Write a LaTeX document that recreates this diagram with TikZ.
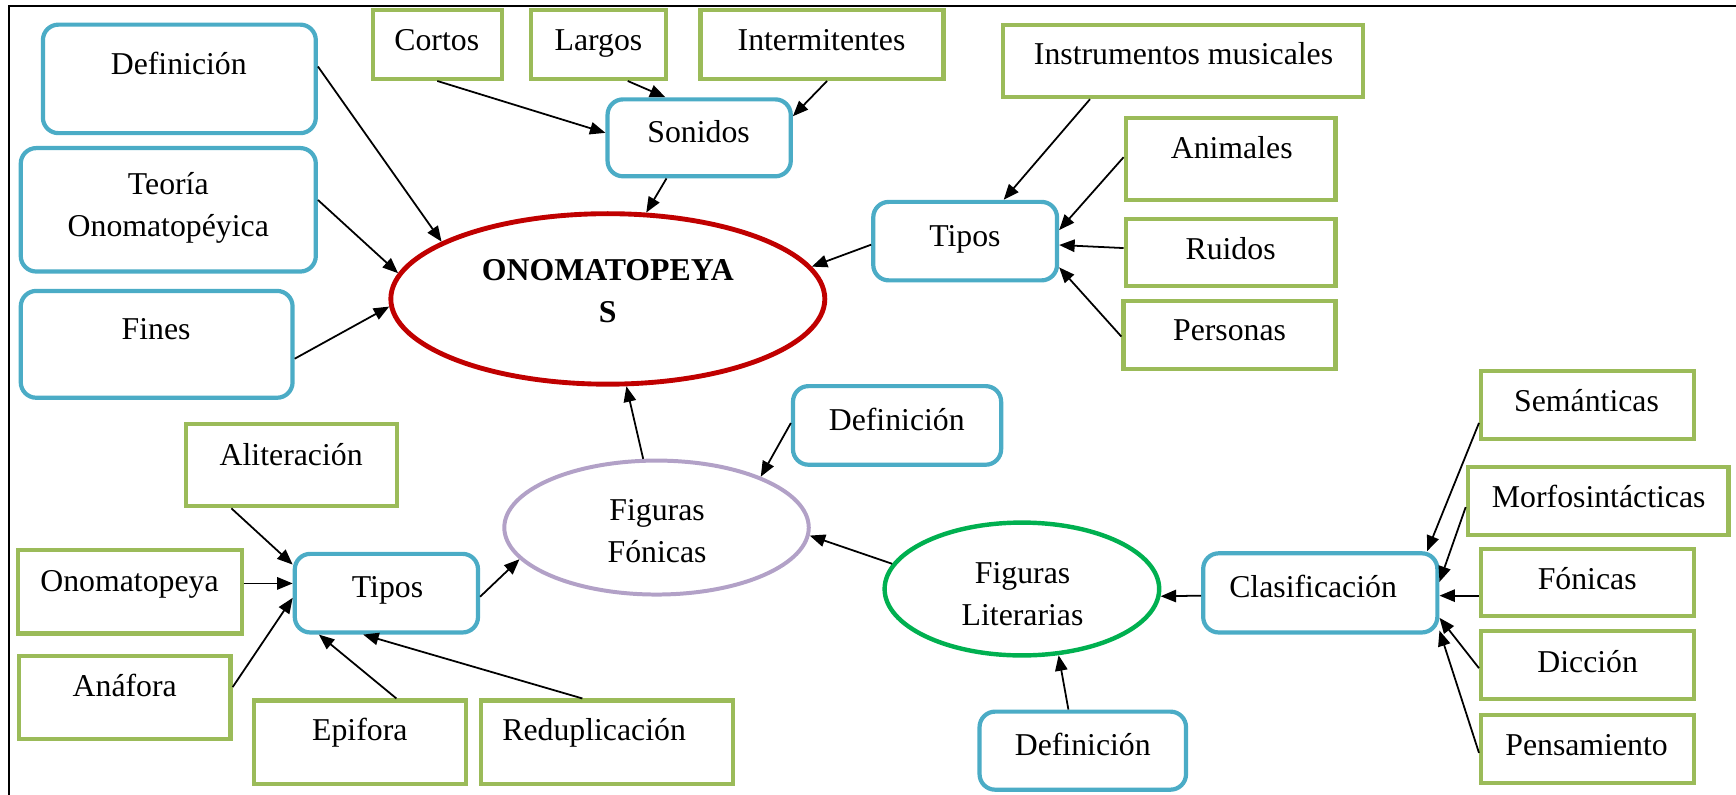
\documentclass[tikz,border=0pt]{standalone}
\usepackage{fontspec}
\setmainfont{Liberation Serif}
\usetikzlibrary{shapes.geometric,arrows.meta}
\definecolor{cblue}{RGB}{75,172,198}
\definecolor{cgreen}{RGB}{155,187,89}
\definecolor{cred}{RGB}{192,0,0}
\definecolor{cpurple}{RGB}{178,161,199}
\definecolor{cgreenell}{RGB}{0,176,80}
\begin{document}
\begin{tikzpicture}[x=0.5pt,y=-0.5pt,
  bbox/.style={draw=cblue,line width=1.9pt,rounded corners=7pt,fill=white,inner sep=0pt},
  gbox/.style={draw=cgreen,line width=1.9pt,fill=white,inner sep=0pt},
  ell/.style={ellipse,inner sep=0pt,fill=white},
  txt/.style={anchor=base,inner sep=0pt,font=\fontsize{14.35pt}{19pt}\selectfont,align=center},
  arr/.style={line width=0.8pt,-{Triangle[length=7pt,width=5.6pt]}},
]
\path[use as bounding box] (0,0) rectangle (1568,718);
% frame
\coordinate (ftr) at (1568,5.4);
\coordinate (ftl) at (7.8,5.4);
\coordinate (fbl) at (7.8,718);
\draw[line width=1pt] (ftr) -- (ftl) -- (fbl);

% blue rounded boxes
\node[bbox,minimum width=123.25pt,minimum height=49pt] (defA) at (162,71.25) {};
\node[bbox,minimum width=133.25pt,minimum height=55.75pt] (teoria) at (152,189.5) {};
\node[bbox,minimum width=122.75pt,minimum height=48.25pt] (fines) at (141.5,311) {};
\node[bbox,minimum width=82.75pt,minimum height=34.75pt] (sonidos) at (631.5,124.5) {};
\node[bbox,minimum width=83pt,minimum height=35.45pt] (tiposR) at (871.75,217.8) {};
\node[bbox,minimum width=94pt,minimum height=35.5pt] (defB) at (810.25,384.25) {};
\node[bbox,minimum width=82.75pt,minimum height=35.5pt] (tiposL) at (349,535.75) {};
\node[bbox,minimum width=105.75pt,minimum height=35.75pt] (clasif) at (1192.5,535.5) {};
\node[bbox,minimum width=93.25pt,minimum height=35.25pt] (defC) at (978,678) {};

% green boxes
\node[gbox,minimum width=58.25pt,minimum height=31pt] (cortos) at (395,40.25) {};
\node[gbox,minimum width=60.75pt,minimum height=31pt] (largos) at (540.5,40.25) {};
\node[gbox,minimum width=109.75pt,minimum height=31pt] (interm) at (742.5,40.25) {};
\node[gbox,minimum width=162.75pt,minimum height=32.7pt] (instr) at (1068.5,55) {};
\node[gbox,minimum width=94.75pt,minimum height=37.35pt] (animales) at (1111.5,143.6) {};
\node[gbox,minimum width=94.75pt,minimum height=30.4pt] (ruidos) at (1111.5,227.85) {};
\node[gbox,minimum width=95.75pt,minimum height=30.75pt] (personas) at (1110.5,302.5) {};
\node[gbox,minimum width=95.25pt,minimum height=37.25pt] (alit) at (263,420) {};
\node[gbox,minimum width=101pt,minimum height=37.75pt] (onomat) at (117.25,534.5) {};
\node[gbox,minimum width=95.45pt,minimum height=37.25pt] (anafora) at (112.8,630) {};
\node[gbox,minimum width=95.75pt,minimum height=37.75pt] (epifora) at (325.5,670.5) {};
\node[gbox,minimum width=113.75pt,minimum height=37.75pt] (redup) at (548.5,670.5) {};
\node[gbox,minimum width=96.25pt,minimum height=30.75pt] (seman) at (1434,365.5) {};
\node[gbox,minimum width=117.75pt,minimum height=30.75pt] (morfo) at (1443.5,452.5) {};
\node[gbox,minimum width=96.25pt,minimum height=30.25pt] (fonicas) at (1434,526) {};
\node[gbox,minimum width=96.25pt,minimum height=30.75pt] (diccion) at (1434,600.5) {};
\node[gbox,minimum width=96.25pt,minimum height=30.75pt] (pensam) at (1434,676.5) {};

% ellipses
\node[ell,draw=cred,line width=2.2pt,minimum width=196pt,minimum height=77pt] (onoma) at (549,270) {};
\node[ell,draw=cpurple,line width=1.8pt,minimum width=137.5pt,minimum height=60.5pt] (ff) at (593,476.5) {};
\node[ell,draw=cgreenell,line width=2pt,minimum width=124pt,minimum height=60pt] (fl) at (923,532) {};

% texts (multi-line nodes: base = baseline of last line)
\node[txt] (defA-t) at (161.5,67.7) {Definición};
\node[txt] (teoria-t) at (152,214) {Teoría\\Onomatopéyica};
\node[txt] (fines-t) at (141,307) {Fines};
\node[txt] (cortos-t) at (394.5,46) {Cortos};
\node[txt] (largos-t) at (540.5,46) {Largos};
\node[txt] (interm-t) at (742,46) {Intermitentes};
\node[txt] (sonidos-t) at (631,128.9) {Sonidos};
\node[txt] (instr-t) at (1069,58.7) {Instrumentos musicales};
\node[txt] (animales-t) at (1112.5,143) {Animales};
\node[txt] (ruidos-t) at (1111.5,234) {Ruidos};
\node[txt] (personas-t) at (1110.6,307.7) {Personas};
\node[txt] (tiposR-t) at (871.5,222.8) {Tipos};
\node[txt,font=\fontsize{14.35pt}{19pt}\selectfont\bfseries] (onoma-t) at (549,291.5) {ONOMATOPEYA\\S};
\node[txt] (defB-t) at (810,388.5) {Definición};
\node[txt] (ff-t) at (593.5,508) {Figuras\\Fónicas};
\node[txt] (alit-t) at (263,420) {Aliteración};
\node[txt] (onomat-t) at (117,534) {Onomatopeya};
\node[txt] (tiposL-t) at (350,540) {Tipos};
\node[txt] (anafora-t) at (112.7,629) {Anáfora};
\node[txt] (epifora-t) at (325,669) {Epifora};
\node[txt] (redup-t) at (536.6,669) {Reduplicación};
\node[txt] (fl-t) at (923.6,564.6) {Figuras\\Literarias};
\node[txt] (clasif-t) at (1186,540) {Clasificación};
\node[txt] (defC-t) at (978,682) {Definición};
\node[txt] (seman-t) at (1433,372) {Semánticas};
\node[txt] (morfo-t) at (1444,458) {Morfosintácticas};
\node[txt] (fonicas-t) at (1433.6,532) {Fónicas};
\node[txt] (diccion-t) at (1434,607) {Dicción};
\node[txt] (pensam-t) at (1433,682) {Pensamiento};

% connectors
\draw[arr] ([yshift=5.6pt]defA.east) -- (onoma.161);
\draw[arr] ([yshift=4.45pt]teoria.east) -- (onoma.173.6);
\draw[arr] ([yshift=-6.5pt]fines.east) -- (onoma.182);
\draw[arr] (cortos.south) -- ([yshift=2.25pt]sonidos.west);
\draw[arr] ([xshift=13.25pt]largos.south) -- ([xshift=-15.25pt]sonidos.north);
\draw[arr] ([xshift=2.25pt]interm.south) -- ([yshift=9.75pt]sonidos.east);
\draw[arr] ([xshift=-14.75pt]sonidos.south) -- (onoma.66.7);
\draw[arr] ([yshift=-1.6pt]tiposR.west) -- (onoma.9.1);
\draw[arr] ([xshift=-42pt]instr.south) -- ([xshift=17.4pt]tiposR.north);
\draw[arr] ([yshift=0.8pt]animales.west) -- ([yshift=5pt]tiposR.east);
\draw[arr] ([yshift=1.9pt]ruidos.west) -- ([yshift=-1.75pt]tiposR.east);
\draw[arr] ([yshift=-0.75pt]personas.west) -- ([yshift=-11.85pt]tiposR.east);
\draw[arr] (ff.101.75) -- (onoma.282);
\draw[arr] ([yshift=1.1pt]defB.west) -- (ff.26.9);
\draw[arr] (fl.169.7) -- (ff.357.3);
\draw[arr] ([yshift=-1.6pt]tiposL.east) -- (ff.193.4);
\draw[arr] ([xshift=-27pt]alit.south) -- ([yshift=12.9pt]tiposL.west);
\draw[arr] ([yshift=3.775pt]onomat.east) -- ([yshift=4.4pt]tiposL.west);
\draw[arr] ([yshift=4.7pt]anafora.east) -- ([yshift=-2.1pt]tiposL.west);
\draw[arr] ([xshift=16.25pt]epifora.north) -- ([xshift=-30.5pt]tiposL.south);
\draw[arr] ([xshift=-11.25pt]redup.north) -- ([xshift=-10.5pt]tiposL.south);
\draw[arr] ([yshift=-1.25pt]clasif.west) -- (fl.357.25);
\draw[arr] ([xshift=-6.5pt]defC.north) -- (fl.299.5);
\draw[arr] ([yshift=-8.25pt]seman.west) -- ([xshift=48.25pt]clasif.north);
\draw[arr] ([yshift=-2.75pt]morfo.west) -- ([yshift=4.95pt]clasif.east);
\draw[arr] ([yshift=-6pt]fonicas.west) -- ([yshift=-1.25pt]clasif.east);
\draw[arr] ([yshift=-1.5pt]diccion.west) -- ([yshift=-11.25pt]clasif.east);
\draw[arr] ([yshift=-1.75pt]pensam.west) -- ([yshift=-17pt]clasif.east);
\end{tikzpicture}
\end{document}
